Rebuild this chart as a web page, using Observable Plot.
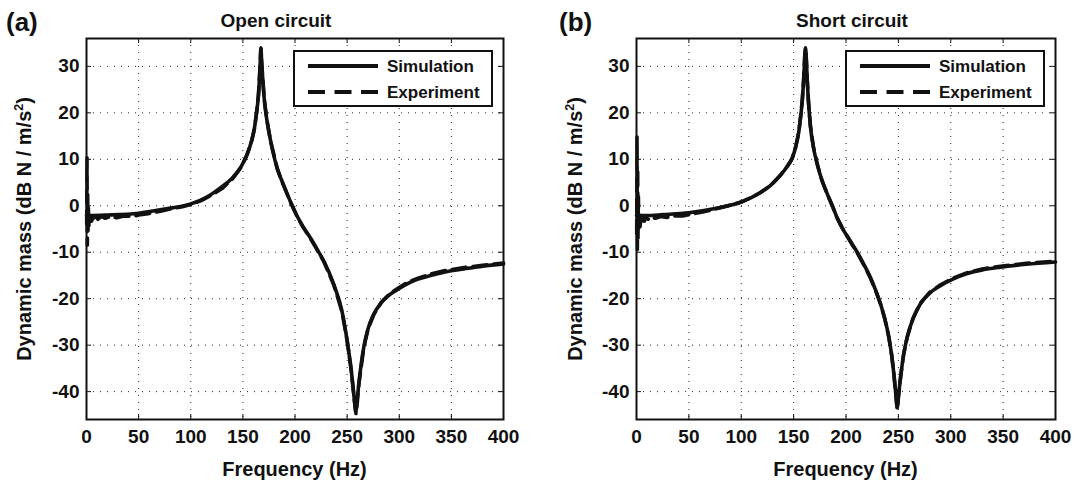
<!DOCTYPE html>
<html><head><meta charset="utf-8">
<script src="https://cdn.jsdelivr.net/npm/d3@7"></script>
<script src="https://cdn.jsdelivr.net/npm/@observablehq/plot@0.6"></script>
<style>
body{margin:0;background:#fff;}
#wrap{position:relative;width:1074px;height:486px;font-family:"Liberation Sans",Arial,Helvetica,sans-serif;font-weight:bold;color:#111;overflow:hidden;}
.panel{position:absolute;top:0;}
.lbl{position:absolute;white-space:nowrap;}
.legend{position:absolute;top:50px;}
sup{font-size:0.62em;line-height:0;vertical-align:0.62em;}
</style></head><body><div id="wrap"></div>
<script>
// ---- data ----
const xTicks = [0, 50, 100, 150, 200, 250, 300, 350, 400];
const yTicks = [-40, -30, -20, -10, 0, 10, 20, 30];
const panelTitles = ["Open circuit", "Short circuit"];
const panelLetters = ["(a)", "(b)"];
const seriesNames = ["Simulation", "Experiment"];
const xLabel = "Frequency (Hz)";
const yLabelHtml = "Dynamic mass (dB N / m/s<sup>2</sup>)";

// (a) open circuit – simulation
const fA_sim = [0,5,20,50,75,100,115,128,140,148,154,158.5,161,163,165,166.5,167.3,168,169,170.5,173,176.5,183,187,191,196,202,208,215,221,227.6,237,245,250,254,257,258.3,259.5,261.2,266,270,275.6,283,291.6,300,307.6,318,330,345,362,380,400];
const vA_sim = [-2.1,-2.1,-2.0,-1.6,-0.7,0.4,1.8,3.8,6.0,8.3,11.0,14.1,16.6,19.8,24.0,30.0,34.0,31.0,27.5,23.0,18.5,14.1,8.0,5.6,3.4,0.7,-2.2,-4.6,-7.0,-9.3,-11.9,-16.8,-22.6,-29.0,-35.5,-41.9,-44.3,-42.0,-38.3,-30.4,-26.5,-23.3,-20.8,-19.0,-17.8,-16.8,-15.8,-15.0,-14.2,-13.6,-13.0,-12.5];
// (a) open circuit – experiment
const fA_exp = [0.2,0.5,0.8,1.1,1.4,1.8,2.2,2.7,3.3,4,5,6,7.5,9,11,14,18,23,29,36,44,52,62,72,82,92,100,110,120,130,140,148,154,158.5,161,163,165,166.5,167.3,168,169,170.5,173,176.5,183,187,191,196,202,208,215,221,227.6,237,245,250,254,257,258.5,259.7,261.2,266,270,275.6,283,291.6,300,307.6,318,330,345,362,380,400];
const vA_exp = [-4,10.3,-8.5,3,-6,-0.5,-4.5,-2,-3.8,-2.4,-3.3,-2.5,-3.1,-2.4,-2.9,-2.3,-2.7,-2.3,-2.6,-2.2,-2.3,-1.9,-1.6,-1.1,-0.6,-0.2,0.3,1.1,2.3,3.7,5.8,8.2,11.0,14.0,16.5,19.8,24.0,30.0,33.8,31.0,27.5,23.0,18.5,14.0,8.0,5.5,3.3,0.6,-2.3,-4.7,-7.1,-9.4,-12.0,-16.9,-22.7,-29.0,-35.5,-42.0,-44.8,-42.5,-38.5,-30.5,-26.6,-23.4,-20.7,-18.8,-17.6,-16.5,-15.6,-14.7,-13.9,-13.3,-12.8,-12.3];

// (b) short circuit – simulation
const fB_sim = [0,10,25,50,75,100,118,128,137.5,143,148.6,152,155,158.2,159.8,160.6,161.3,162,163,164.3,166.1,169,172.5,177,182,188,191,194.8,198,202,206,210.7,217,223.4,228,232.9,237,240.9,243.5,245.7,247.5,248.9,250.3,252.1,255,258.4,264,271.1,280,290.2,302,315.7,330,347.5,372,400];
const vB_sim = [-2.1,-2.1,-1.9,-1.5,-0.6,0.8,2.8,4.4,6.6,8.2,10.2,12.7,16.0,22.5,28.0,32.0,34.0,32.0,27.0,22.0,17.0,12.5,9.0,5.5,2.6,-0.6,-2.3,-4.0,-5.4,-6.8,-8.3,-10.0,-12.6,-15.5,-18.0,-21.1,-24.3,-28.3,-32.0,-36.2,-40.5,-43.4,-40.5,-36.9,-32.0,-28.3,-24.3,-21.1,-18.8,-17.2,-15.8,-14.6,-13.8,-13.2,-12.6,-12.1];
// (b) short circuit – experiment
const fB_exp = [0.2,0.5,0.8,1.1,1.4,1.8,2.3,2.8,3.4,4.2,5,6,7.5,9,11,14,18,23,29,36,44,52,62,72,82,92,100,110,118,128,137.5,143,148.6,152,155,158.2,159.8,160.6,161.3,162,163,164.3,166.1,169,172.5,177,182,188,191,194.8,198,202,206,210.7,217,223.4,228,232.9,237,240.9,243.5,245.7,247.5,249,250.3,252.1,255,258.4,264,271.1,280,290.2,302,315.7,330,347.5,372,400];
const vB_exp = [-6,14.8,-9.5,8,-7,2,-5.5,-2,-4.5,-2.5,-3.8,-2.6,-3.3,-2.5,-2.9,-2.4,-2.7,-2.3,-2.5,-2.2,-2.2,-1.8,-1.4,-0.9,-0.3,0.3,0.8,1.8,2.8,4.4,6.6,8.2,10.2,12.7,16.0,22.5,28.0,32.0,33.8,32.0,27.0,22.0,17.0,12.5,9.0,5.5,2.6,-0.6,-2.4,-4.1,-5.5,-6.9,-8.4,-10.1,-12.7,-15.6,-18.1,-21.1,-24.3,-28.3,-32.0,-36.2,-40.5,-43.8,-40.5,-36.9,-32.0,-28.3,-24.2,-20.9,-18.6,-17.0,-15.6,-14.4,-13.6,-13.0,-12.4,-11.9];

// ---- layout ----
const FONT = '"Liberation Sans", Arial, Helvetica, sans-serif';
const H = 486, MT = 38, MB = 67;
const INK = "#111";
const wrap = document.getElementById("wrap");

function addDiv(html, css) {
  const d = document.createElement("div");
  d.className = "lbl";
  d.innerHTML = html;
  d.style.cssText += css;
  wrap.appendChild(d);
  return d;
}

function makePanel(fs, vs, fe, ve, cfg) {
  const sim = fs.map((f, i) => ({f, v: vs[i]}));
  const exp = fe.map((f, i) => ({f, v: ve[i]}));
  const ph = H - MT - MB, pw = cfg.width - cfg.ml - cfg.mr;
  const chart = Plot.plot({
    width: cfg.width, height: H,
    marginLeft: cfg.ml, marginRight: cfg.mr, marginTop: MT, marginBottom: MB,
    x: {domain: [0, 400]},
    y: {domain: [-46, 36]},
    style: {fontFamily: FONT, fontWeight: "bold", fontSize: "19px", color: INK, background: "white", overflow: "visible"},
    marks: [
      Plot.gridX(xTicks, {stroke: "#000", strokeOpacity: 0.85, strokeWidth: 1, strokeDasharray: "1,6"}),
      Plot.gridY(yTicks, {stroke: "#000", strokeOpacity: 0.85, strokeWidth: 1, strokeDasharray: "1,6"}),
      Plot.tickX(xTicks, {x: d => d, insetTop: ph - 5, stroke: INK, strokeWidth: 1}),
      Plot.tickX(xTicks, {x: d => d, insetBottom: ph - 5, stroke: INK, strokeWidth: 1}),
      Plot.tickY(yTicks, {y: d => d, insetRight: pw - 5, stroke: INK, strokeWidth: 1}),
      Plot.tickY(yTicks, {y: d => d, insetLeft: pw - 5, stroke: INK, strokeWidth: 1}),
      Plot.line(sim, {x: "f", y: "v", stroke: INK, strokeWidth: 3.6, strokeLinejoin: "round", curve: "monotone-x"}),
      Plot.line(exp, {x: "f", y: "v", stroke: INK, strokeWidth: 3.6, strokeDasharray: "14,7", strokeLinejoin: "round"}),
      Plot.frame({stroke: INK, strokeWidth: 2}),
      Plot.axisX(xTicks, {tickSize: 0, tickPadding: 10, fontSize: 19, label: null, tickFormat: d => `${d}`}),
      Plot.axisY(yTicks, {tickSize: 0, tickPadding: 7, fontSize: 19, label: null, tickFormat: d => `${d}`})
    ]
  });
  chart.classList.add("panel");
  chart.style.left = cfg.left + "px";
  wrap.appendChild(chart);

  const cx = cfg.left + cfg.ml + pw / 2;
  const cy = MT + ph / 2;
  // axis labels
  addDiv(xLabel, `font-size:20px;line-height:20px;top:459px;left:${cx - 150}px;width:300px;text-align:center;`);
  addDiv(yLabelHtml, `font-size:20px;line-height:20px;left:${cfg.left + cfg.ylabX}px;top:${cy}px;transform:translate(-50%,-50%) rotate(-90deg);`);
  // panel title
  addDiv(cfg.title, `font-size:19px;line-height:19px;top:11px;left:${cfg.titleX - 150}px;width:300px;text-align:center;`);
  // panel letter
  addDiv(cfg.letter, `font-size:26px;line-height:26px;top:9px;left:${cfg.letterX}px;`);

  // legend box
  const ns = "http://www.w3.org/2000/svg";
  const lg = document.createElementNS(ns, "svg");
  lg.setAttribute("width", 200); lg.setAttribute("height", 57);
  lg.setAttribute("class", "legend");
  lg.style.left = (cfg.left + cfg.width - cfg.mr - 210) + "px";
  lg.innerHTML =
    `<rect x="1" y="1" width="198" height="55" fill="white" stroke="${INK}" stroke-width="2"/>` +
    `<line x1="15" x2="85" y1="16" y2="16" stroke="${INK}" stroke-width="4"/>` +
    `<line x1="15" x2="85" y1="42" y2="42" stroke="${INK}" stroke-width="4" stroke-dasharray="17,9.5"/>` +
    `<text x="94" y="22" font-family='${FONT}' font-weight="bold" font-size="17" fill="${INK}">${seriesNames[0]}</text>` +
    `<text x="94" y="48" font-family='${FONT}' font-weight="bold" font-size="17" fill="${INK}">${seriesNames[1]}</text>`;
  wrap.appendChild(lg);
}

makePanel(fA_sim, vA_sim, fA_exp, vA_exp, {left: 0, width: 540, ml: 86, mr: 37, ylabX: 24, title: panelTitles[0], titleX: 276, letter: panelLetters[0], letterX: 6});
makePanel(fB_sim, vB_sim, fB_exp, vB_exp, {left: 540, width: 534, ml: 96, mr: 19, ylabX: 35, title: panelTitles[1], titleX: 852, letter: panelLetters[1], letterX: 559});
</script></body></html>
